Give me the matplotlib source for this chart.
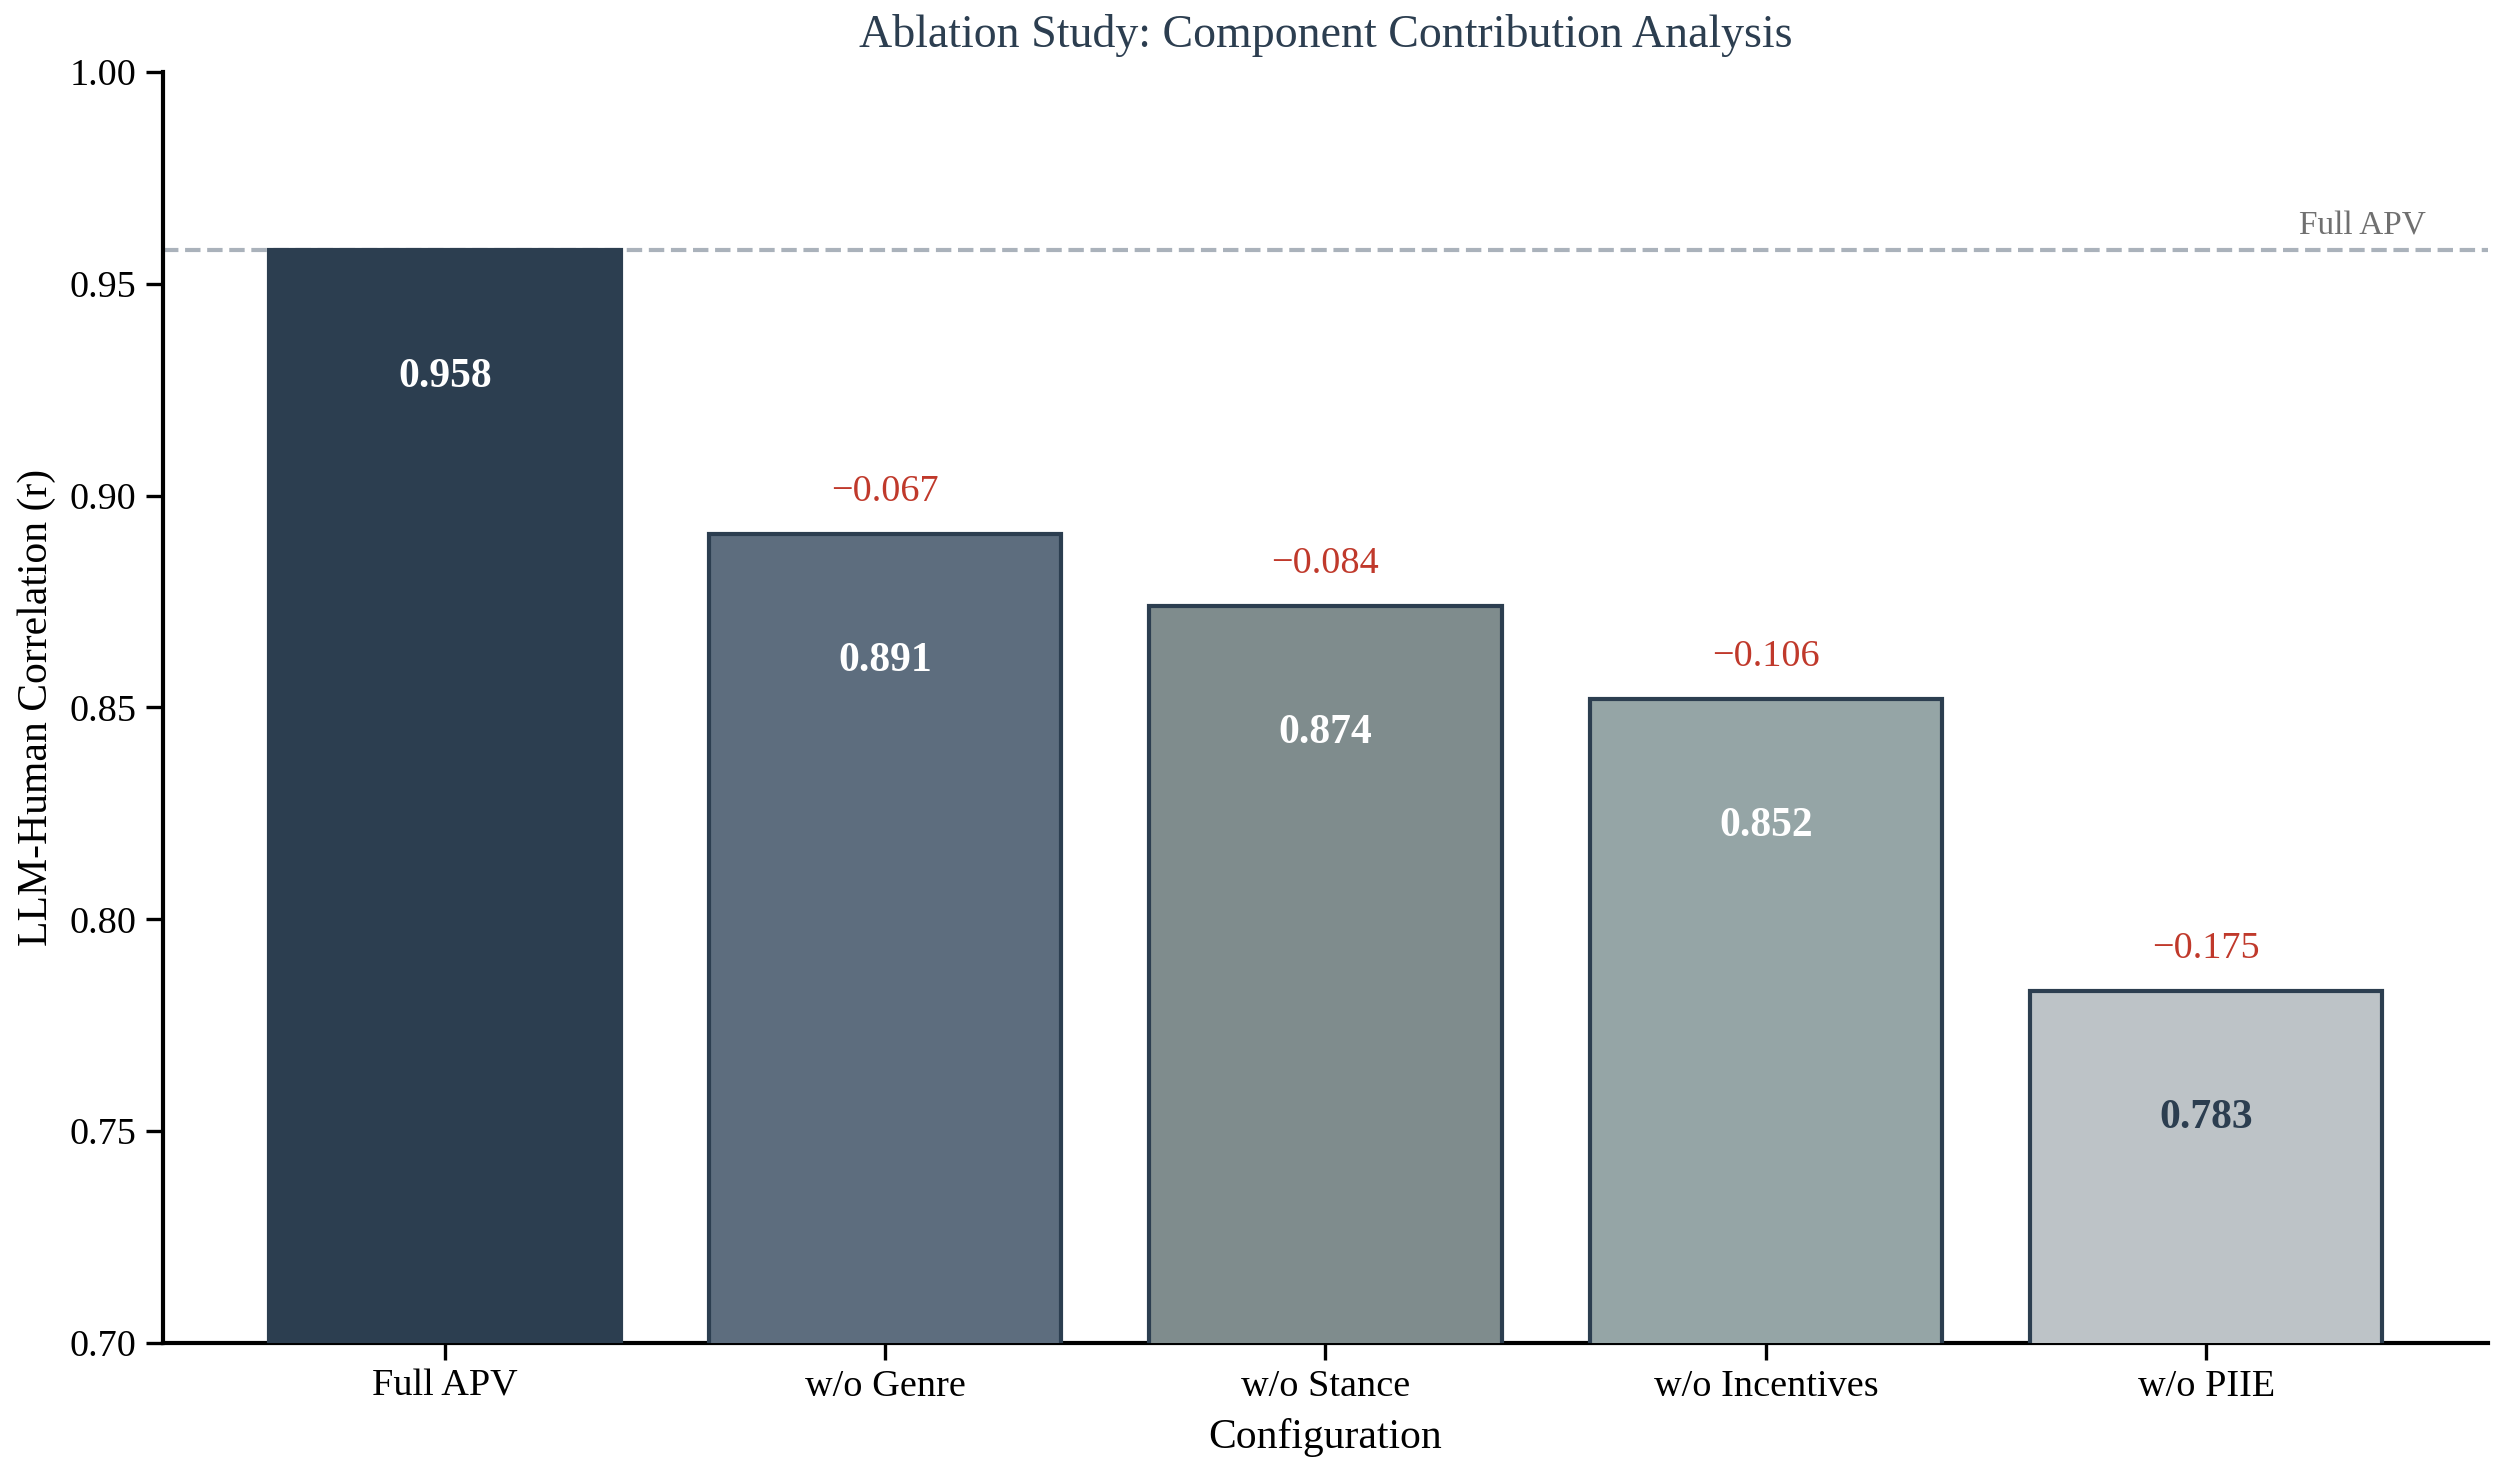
import matplotlib
matplotlib.use("Agg")
import matplotlib.pyplot as plt

configs = ["Full APV", "w/o Genre", "w/o Stance", "w/o Incentives", "w/o PIIE"]
values = [0.958, 0.891, 0.874, 0.852, 0.783]
colors = ["#2c3e50", "#5d6d7e", "#7f8c8d", "#95a5a6", "#bdc3c7"]
label_colors = ["white", "white", "white", "white", "#2c3e50"]
yticks = [0.70, 0.75, 0.80, 0.85, 0.90, 0.95, 1.00]

plt.rcParams['font.family'] = ['Liberation Serif', 'DejaVu Serif']

fig = plt.figure(figsize=(12.52, 7.375), dpi=200)
ax = fig.add_axes([0.0651, 0.0895, 0.9285, 0.8617])

x = list(range(len(configs)))
bars = ax.bar(x, values, width=0.8, color=colors, edgecolor="#2c3e50", linewidth=1.5, zorder=3)

full = values[0]
ax.axhline(full, color="#aab2bb", linestyle="--", linewidth=1.5, zorder=2)
ax.text(4.5, full + 0.002, "Full APV", ha="right", va="bottom", fontsize=12, color="#707070")

for i, v in enumerate(values):
    ax.text(i, v - 0.03, f"{v:.3f}", ha="center", va="center", fontsize=15,
            fontweight="bold", color=label_colors[i], zorder=4)
    if i > 0:
        d = v - full
        ax.text(i, v + 0.01, f"\u2212{abs(d):.3f}", ha="center", va="center",
                fontsize=13.75, color="#c0392b", zorder=4)

ax.set_ylim(0.70, 1.00)
ax.set_yticks(yticks)
ax.set_yticklabels([f"{t:.2f}" for t in yticks])
ax.set_xticks(x)
ax.set_xticklabels(configs)
ax.tick_params(axis="both", labelsize=13.75, length=6, width=1.2)
ax.spines["top"].set_visible(False)
ax.spines["right"].set_visible(False)
ax.spines["left"].set_linewidth(1.5)
ax.spines["bottom"].set_linewidth(1.5)
ax.set_ylabel("LLM-Human Correlation (r)", fontsize=15, labelpad=5)
ax.set_xlabel("Configuration", fontsize=15, labelpad=5)
ax.set_title("Ablation Study: Component Contribution Analysis", fontsize=16.5, color="#2c3e50", pad=9)

fig.savefig("out.png", dpi=200)
